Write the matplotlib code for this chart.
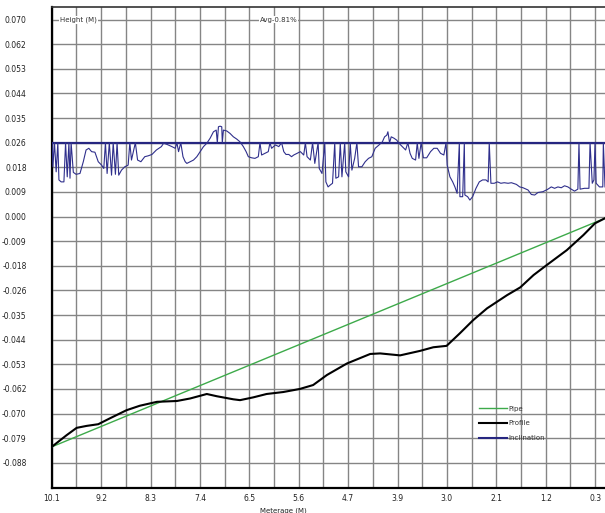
import numpy as np
import matplotlib
matplotlib.use("Agg")
import matplotlib.pyplot as plt

# ---- data ----
x_tick_labels = ['10.1', '9.2', '8.3', '7.4', '6.5', '5.6', '4.7', '3.9', '3.0', '2.1', '1.2', '0.3']
y_tick_labels = ['-0.088', '-0.079', '-0.070', '-0.062', '-0.053', '-0.044', '-0.035', '-0.026',
                 '-0.018', '-0.009', '0.000', '0.009', '0.018', '0.026', '0.035', '0.044',
                 '0.053', '0.062', '0.070']

# pipe (straight line)
pipe_m = [10.10, 0.11]
pipe_h = [-0.0823, -0.0006]

# measured profile
profile_m = [10.10, 9.83, 9.65, 9.47, 9.26, 9.05, 8.75, 8.51, 8.20, 7.84, 7.60, 7.30, 7.12,
             6.82, 6.70, 6.46, 6.22, 5.92, 5.62, 5.38, 5.13, 4.77, 4.35, 4.17, 3.81, 3.45,
             3.21, 2.97, 2.73, 2.49, 2.24, 1.88, 1.64, 1.40, 1.16, 0.80, 0.50, 0.29, 0.11]
profile_h = [-0.0823, -0.0781, -0.0755, -0.0748, -0.0742, -0.0721, -0.0692, -0.0676, -0.0662,
             -0.0659, -0.0650, -0.0634, -0.0642, -0.0653, -0.0656, -0.0646, -0.0634, -0.0627,
             -0.0616, -0.0602, -0.0566, -0.0525, -0.0491, -0.0489, -0.0496, -0.0480, -0.0467,
             -0.0462, -0.0417, -0.0370, -0.0328, -0.0281, -0.0253, -0.0209, -0.0173, -0.0120,
             -0.0066, -0.0024, -0.0006]

# inclination trace (spikes go back to the reference level 0.0264)
incl_ref = 0.0264
incl_m = [10.09, 10.08, 10.05, 10.02, 9.99, 9.97, 9.93, 9.88, 9.85, 9.82,
          9.79, 9.77, 9.75, 9.71, 9.66, 9.59, 9.53, 9.48, 9.43, 9.38,
          9.32, 9.26, 9.20, 9.16, 9.13, 9.10, 9.06, 9.02, 8.99, 8.95,
          8.92, 8.89, 8.84, 8.78, 8.72, 8.69, 8.66, 8.59, 8.55, 8.49,
          8.42, 8.36, 8.29, 8.21, 8.12,
          8.08, 8.02, 7.93, 7.87, 7.84, 7.81, 7.77, 7.73, 7.69, 7.66,
          7.60, 7.54, 7.48, 7.42, 7.36, 7.30, 7.24, 7.18, 7.13, 7.11,
          7.09, 7.06, 7.03, 7.02, 7.00, 6.94, 6.88, 6.82, 6.76, 6.70,
          6.64, 6.59, 6.55, 6.49, 6.43, 6.37, 6.34, 6.31, 6.25, 6.19,
          6.16, 6.13,
          6.06, 6.00, 5.95, 5.91, 5.87, 5.82, 5.77, 5.73, 5.67, 5.61,
          5.55, 5.52, 5.49, 5.43, 5.39, 5.35, 5.29, 5.27, 5.22, 5.17,
          5.15, 5.11, 5.07, 5.03, 4.99, 4.97, 4.92, 4.89, 4.86, 4.81,
          4.79, 4.74, 4.71, 4.68, 4.63, 4.59, 4.56, 4.50, 4.44, 4.38,
          4.32, 4.26, 4.19, 4.13, 4.09,
          4.05, 4.03, 4.00, 3.97, 3.92, 3.87, 3.83, 3.77, 3.71, 3.67,
          3.63, 3.59, 3.53, 3.50, 3.47, 3.43, 3.39, 3.33, 3.26, 3.20,
          3.14, 3.08, 3.02, 2.98, 2.96, 2.91, 2.86, 2.82, 2.78, 2.74,
          2.73, 2.68, 2.65, 2.64, 2.59, 2.55, 2.50, 2.44, 2.38, 2.32,
          2.26, 2.22, 2.20, 2.17, 2.11, 2.05,
          1.99, 1.93, 1.86, 1.80, 1.71, 1.65, 1.59, 1.50, 1.44, 1.38,
          1.32, 1.23, 1.14, 1.08, 1.02, 0.96, 0.90, 0.84, 0.78, 0.72,
          0.66, 0.60, 0.58, 0.56, 0.48, 0.40, 0.38, 0.34, 0.31, 0.29,
          0.27, 0.21, 0.15, 0.14, 0.11]
incl_h = [0.0264, 0.0178, 0.0264, 0.0160, 0.0264, 0.0131, 0.0124, 0.0124, 0.0264, 0.0142,
          0.0264, 0.0137, 0.0264, 0.0158, 0.0151, 0.0154, 0.0196, 0.0238, 0.0244, 0.0232,
          0.0230, 0.0196, 0.0184, 0.0172, 0.0264, 0.0154, 0.0264, 0.0148, 0.0264, 0.0151,
          0.0264, 0.0148, 0.0166, 0.0178, 0.0184, 0.0264, 0.0202, 0.0264, 0.0202, 0.0196,
          0.0214, 0.0217, 0.0222, 0.0238, 0.0250,
          0.0262, 0.0258, 0.0250, 0.0244, 0.0264, 0.0232, 0.0264, 0.0214, 0.0196, 0.0190,
          0.0196, 0.0202, 0.0214, 0.0232, 0.0250, 0.0262, 0.0280, 0.0303, 0.0309, 0.0264,
          0.0321, 0.0323, 0.0321, 0.0264, 0.0309, 0.0306, 0.0297, 0.0285, 0.0277, 0.0267,
          0.0250, 0.0232, 0.0214, 0.0210, 0.0208, 0.0214, 0.0264, 0.0220, 0.0226, 0.0232,
          0.0264, 0.0244,
          0.0256, 0.0250, 0.0264, 0.0232, 0.0222, 0.0222, 0.0214, 0.0220, 0.0226, 0.0232,
          0.0220, 0.0264, 0.0214, 0.0202, 0.0264, 0.0190, 0.0264, 0.0172, 0.0154, 0.0264,
          0.0124, 0.0106, 0.0113, 0.0119, 0.0264, 0.0137, 0.0142, 0.0264, 0.0142, 0.0264,
          0.0160, 0.0142, 0.0264, 0.0166, 0.0208, 0.0264, 0.0178, 0.0178, 0.0196, 0.0208,
          0.0214, 0.0244, 0.0256, 0.0267, 0.0285,
          0.0291, 0.0303, 0.0264, 0.0285, 0.0280, 0.0273, 0.0262, 0.0250, 0.0238, 0.0264,
          0.0226, 0.0208, 0.0202, 0.0264, 0.0208, 0.0264, 0.0210, 0.0210, 0.0232, 0.0244,
          0.0244, 0.0226, 0.0220, 0.0264, 0.0184, 0.0142, 0.0124, 0.0106, 0.0083, 0.0264,
          0.0071, 0.0071, 0.0264, 0.0077, 0.0071, 0.0059, 0.0071, 0.0101, 0.0124, 0.0131,
          0.0131, 0.0124, 0.0264, 0.0119, 0.0119, 0.0124,
          0.0119, 0.0121, 0.0119, 0.0121, 0.0115, 0.0106, 0.0103, 0.0095, 0.0079, 0.0077,
          0.0086, 0.0089, 0.0098, 0.0106, 0.0101, 0.0106, 0.0103, 0.0110, 0.0106, 0.0098,
          0.0091, 0.0098, 0.0264, 0.0098, 0.0101, 0.0101, 0.0264, 0.0119, 0.0131, 0.0264,
          0.0119, 0.0106, 0.0106, 0.0264, 0.0106]

avg_text = 'Avg-0.81%'

# ---- figure ----
fig = plt.figure(figsize=(6.05, 5.13), dpi=100)
ax = fig.add_axes([0.0855, 0.0487, 0.9145, 0.9377])

x_step = 0.892
y_step = 0.0088
x_major = 10.1 - x_step * np.arange(len(x_tick_labels))
x_minor = 10.1 - x_step / 2 * np.arange(23)
y_major = y_step * np.arange(-10, 9)

ax.set_xlim(10.1, 0.11)
ax.set_ylim(-0.0970, 0.0749)

ax.set_xticks(x_major)
ax.set_xticklabels(x_tick_labels)
ax.set_xticks(x_minor, minor=True)
ax.set_yticks(y_major)
ax.set_yticklabels(y_tick_labels)

ax.grid(True, which='both', color='#858585', linewidth=1.0)
ax.set_axisbelow(True)
ax.tick_params(axis='both', which='both', length=0, labelsize=5.5, colors='#222222')
ax.tick_params(axis='y', pad=18)
ax.tick_params(axis='x', pad=4)
for lbl in ax.get_yticklabels():
    lbl.set_horizontalalignment('right')

for side in ['left', 'bottom']:
    ax.spines[side].set_linewidth(1.6)
    ax.spines[side].set_color('black')
ax.spines['top'].set_linewidth(1.2)
ax.spines['top'].set_color('#333333')
ax.spines['right'].set_visible(False)

# series
ax.axhline(incl_ref, color='#262680', linewidth=1.6, zorder=3)
ax.plot(incl_m, incl_h, color='#2f2f8c', linewidth=0.8, zorder=4)
ax.plot(pipe_m, pipe_h, color='#3daa4a', linewidth=1.0, label='Pipe', zorder=5)
ax.plot(profile_m, profile_h, color='black', linewidth=1.5, label='Profile', zorder=6)
ax.plot([], [], color='#262680', linewidth=1.5, label='Inclination')

# header texts
ax.text(9.95, 0.0704, 'Height (M)', fontsize=5, color='#333333', va='center', ha='left',
        bbox=dict(facecolor='white', edgecolor='none', pad=0.5), zorder=7)
ax.text(6.0, 0.0704, avg_text, fontsize=5, color='#333333', va='center', ha='center',
        bbox=dict(facecolor='white', edgecolor='none', pad=0.5), zorder=7)

ax.set_xlabel('Meterage (M)', fontsize=5, color='#222222')
ax.xaxis.set_label_coords(0.418, -0.04)

leg = ax.legend(loc='upper left', bbox_to_anchor=(0.768, 0.177), frameon=False,
                fontsize=5, handlelength=3.9, handletextpad=0.3, labelspacing=1.25,
                borderaxespad=0)
for t in leg.get_texts():
    t.set_color('#333333')

fig.savefig('out.png', dpi=100)
